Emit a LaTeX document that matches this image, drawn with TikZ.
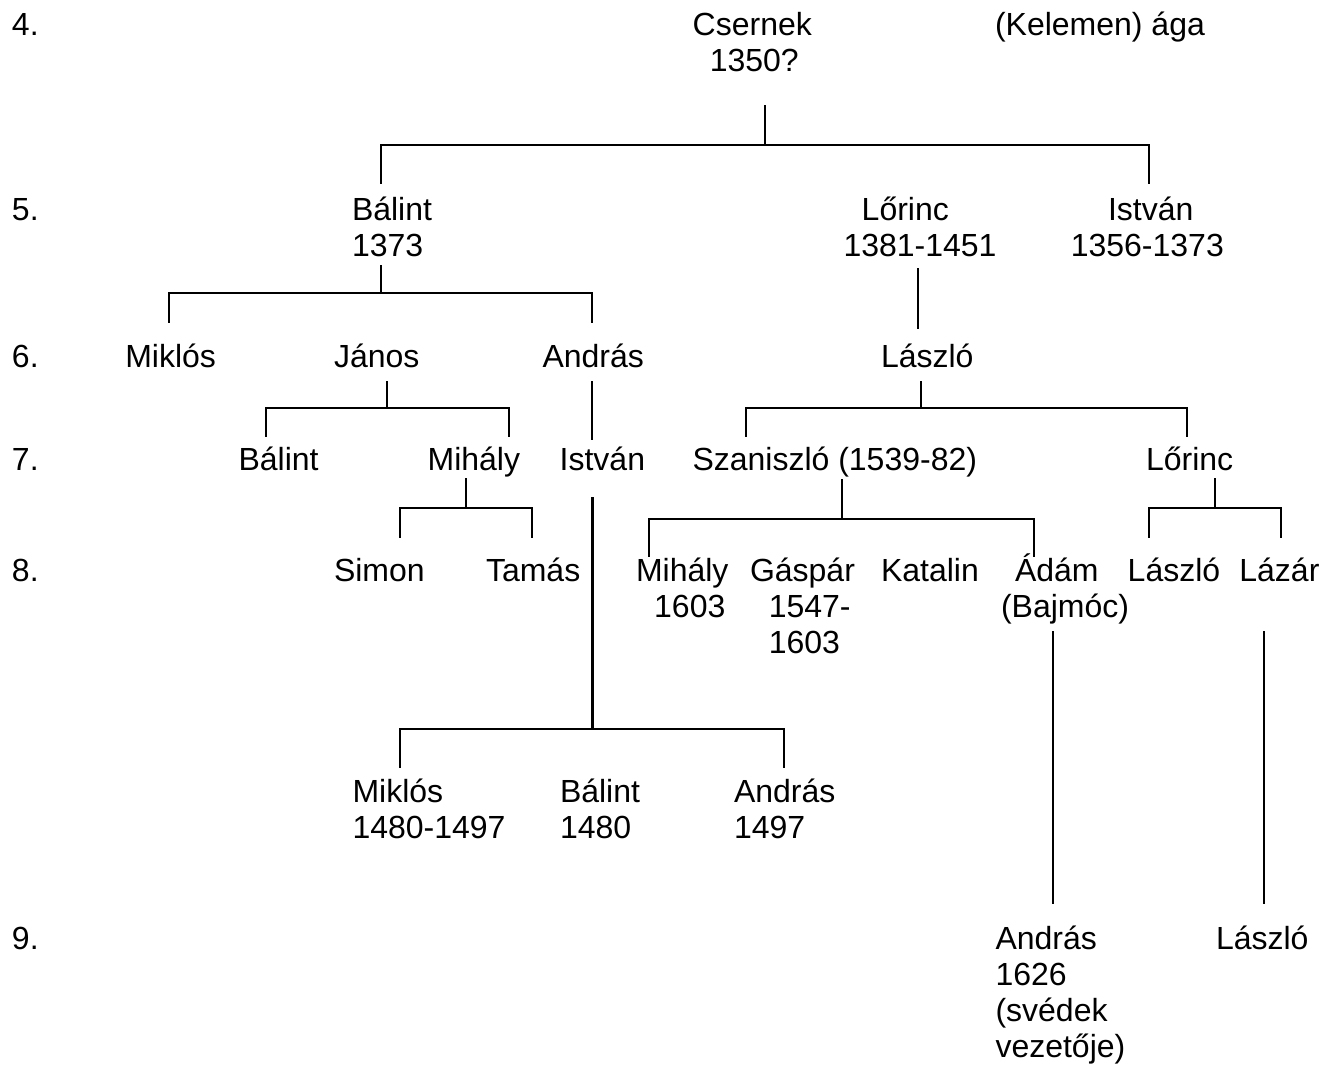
\documentclass[tikz,border=0pt]{standalone}
\usepackage{fontspec}
\setmainfont{Liberation Sans}
\newcommand\treefont{\fontsize{32}{36}\selectfont}
\newcommand\plines[1]{\begin{tabular}[t]{@{}l@{}}#1\end{tabular}}
\begin{document}
\begin{tikzpicture}[x=1pt,y=-1pt,
  person/.style={anchor=base west,inner sep=0pt,outer sep=0pt,font=\treefont},
  level/.style={anchor=base west,inner sep=0pt,outer sep=0pt,font=\treefont},
  conn/.style={line width=2.1pt,line cap=rect,line join=miter}]
\useasboundingbox[fill=white] (0,0) rectangle (1336,1066);
% level labels
\node[level] (l4) at (12,35.7) {4.};
\node[level] (l5) at (12,220) {5.};
\node[level] (l6) at (12,367.3) {6.};
\node[level] (l7) at (12,470.7) {7.};
\node[level] (l8) at (12,581.7) {8.};
\node[level] (l9) at (12,949) {9.};
% generation 4
\node[person] (csernek) at (692.7,35.7) {\plines{Csernek\\\hspace*{17.1pt}1350?}};
\node[person] (kelemen) at (995,35.7) {(Kelemen) ága};
% generation 5
\node[person] (balint5) at (352,220) {\plines{Bálint\\1373}};
\node[person] (lorinc5) at (843.5,220) {\plines{\hspace*{18.2pt}Lőrinc\\1381-1451}};
\node[person] (istvan5) at (1070.8,220) {\plines{\hspace*{37.2pt}István\\1356-1373}};
% generation 6
\node[person] (miklos6) at (125.3,367.3) {Miklós};
\node[person] (janos6) at (334,367.3) {János};
\node[person] (andras6) at (542.5,367.3) {András};
\node[person] (laszlo6) at (881,367.3) {László};
% generation 7
\node[person] (balint7) at (238.6,470.7) {Bálint};
\node[person] (mihaly7) at (427.6,470.7) {Mihály};
\node[person] (istvan7) at (559.7,470.7) {István};
\node[person] (szaniszlo) at (692.5,470.7) {Szaniszló (1539-82)};
\node[person] (lorinc7) at (1146,470.7) {Lőrinc};
% generation 8
\node[person] (simon) at (334,581.7) {Simon};
\node[person] (tamas) at (486,581.7) {Tamás};
\node[person] (mihaly8) at (636,581.7) {\plines{Mihály\\\hspace*{18.2pt}1603}};
\node[person] (gaspar) at (750,581.7) {\plines{Gáspár\\\hspace*{18.8pt}1547-\\\hspace*{18.8pt}1603}};
\node[person] (katalin) at (881,581.7) {Katalin};
\node[person] (adam) at (1001,581.7) {\plines{\hspace*{14pt}Ádám\\(Bajmóc)}};
\node[person] (laszlo8) at (1127.7,581.7) {László};
\node[person] (lazar) at (1239.4,581.7) {Lázár};
% sons of István
\node[person] (miklosB) at (352.5,802.3) {\plines{Miklós\\1480-1497}};
\node[person] (balintB) at (560,802.3) {\plines{Bálint\\1480}};
\node[person] (andrasB) at (734,802.3) {\plines{András\\1497}};
% generation 9
\node[person] (andras9) at (995.5,949) {\plines{András\\1626\\(svédek\\vezetője)}};
\node[person] (laszlo9) at (1216,949) {László};
% connector points
\coordinate (csP) at (765,106);   \coordinate (csB) at (765,145);
\coordinate (b5T) at (381,183);   \coordinate (i5T) at (1149,183);
\coordinate (b5P) at (381,266);   \coordinate (b5B) at (381,293);
\coordinate (m6T) at (169.3,322); \coordinate (a6T) at (592.3,322);
\coordinate (l5P) at (918.3,269); \coordinate (la6T) at (918.3,328);
\coordinate (j6P) at (387.3,381.7); \coordinate (j6B) at (387.3,408.3);
\coordinate (b7T) at (265.7,436); \coordinate (mi7T) at (509,436);
\coordinate (a6P) at (592.3,381.7); \coordinate (i7T) at (592.3,439.3);
\coordinate (la6P) at (920.7,381.7); \coordinate (la6B) at (920.7,408.3);
\coordinate (szT) at (745.7,436); \coordinate (lo7T) at (1187.3,436);
\coordinate (mi7P) at (466,479.3); \coordinate (mi7B) at (466,508.3);
\coordinate (siT) at (400,537.3); \coordinate (taT) at (532.3,537.3);
\coordinate (i7P) at (592.5,498.3); \coordinate (i7B) at (592.5,729);
\coordinate (mbT) at (400,766.7); \coordinate (abT) at (784,766.7);
\coordinate (szP) at (841.7,480); \coordinate (szB) at (841.7,519);
\coordinate (mh8T) at (649.3,556); \coordinate (adT) at (1034,556);
\coordinate (lo7P) at (1215,479); \coordinate (lo7B) at (1215,508.3);
\coordinate (la8T) at (1149,537.3); \coordinate (lz8T) at (1281,537.3);
\coordinate (adP) at (1053,632.3); \coordinate (an9T) at (1053,902.7);
\coordinate (lzP) at (1264,632.3); \coordinate (la9T) at (1264,902.7);
% connectors
\draw[conn] (csP) -- (csB);
\draw[conn] (b5T) |- (i5T |- csB) -- (i5T);
\draw[conn] (b5P) -- (b5B);
\draw[conn] (m6T) |- (a6T |- b5B) -- (a6T);
\draw[conn] (l5P) -- (la6T);
\draw[conn] (j6P) -- (j6B);
\draw[conn] (b7T) |- (mi7T |- j6B) -- (mi7T);
\draw[conn] (a6P) -- (i7T);
\draw[conn] (la6P) -- (la6B);
\draw[conn] (szT) |- (lo7T |- la6B) -- (lo7T);
\draw[conn] (mi7P) -- (mi7B);
\draw[conn] (siT) |- (taT |- mi7B) -- (taT);
\draw[conn] (i7P) -- (i7B);
\draw[conn] (mbT) |- (abT |- i7B) -- (abT);
\draw[conn] (szP) -- (szB);
\draw[conn] (mh8T) |- (adT |- szB) -- (adT);
\draw[conn] (lo7P) -- (lo7B);
\draw[conn] (la8T) |- (lz8T |- lo7B) -- (lz8T);
\draw[conn] (adP) -- (an9T);
\draw[conn] (lzP) -- (la9T);
\end{tikzpicture}
\end{document}
